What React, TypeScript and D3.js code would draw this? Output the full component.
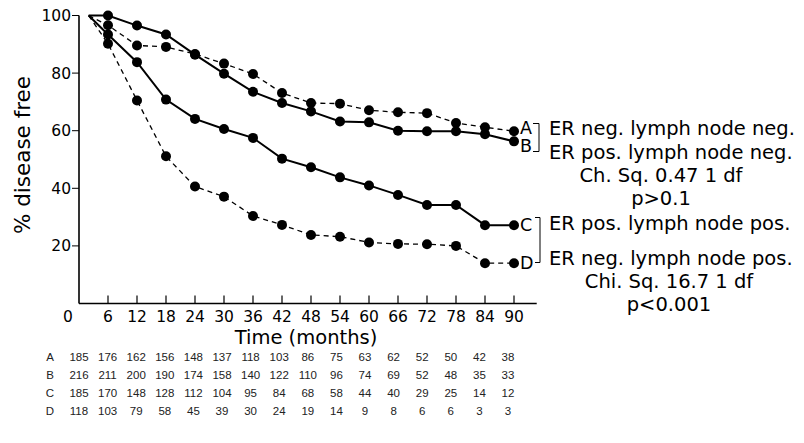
import React from "react";
import * as d3 from "d3";

// Tiempos (meses) de cada punto de las curvas; el primero es el origen común sin punto.
const months = [2, 6, 12, 18, 24, 30, 36, 42, 48, 54, 60, 66, 72, 78, 84, 90];

// % libre de enfermedad.
const curveA = [100, 96.6, 89.6, 89.1, 86.6, 83.3, 79.7, 73.1, 69.6, 69.4, 67.1, 66.4, 66.1, 62.7, 61.2, 59.8];
const curveB = [100, 100, 96.5, 93.4, 86.4, 79.8, 73.5, 69.6, 66.7, 63.2, 62.9, 60.0, 59.8, 59.8, 58.8, 56.3];
const curveC = [100, 93.4, 83.8, 70.8, 64.1, 60.6, 57.5, 50.3, 47.3, 43.8, 41.0, 37.7, 34.2, 34.2, 27.2, 27.2];
const curveD = [100, 90.2, 70.5, 51.1, 40.6, 37.1, 30.4, 27.3, 23.8, 23.2, 21.2, 20.7, 20.6, 20.0, 14.0, 14.0];

const curveNames = ["A", "B", "C", "D"];
const curveDashed = [true, false, false, true];

// Pacientes en riesgo.
const tableMonths = [0, 6, 12, 18, 24, 30, 36, 42, 48, 54, 60, 66, 72, 78, 84, 90];
const atRiskA = [185, 176, 162, 156, 148, 137, 118, 103, 86, 75, 63, 62, 52, 50, 42, 38];
const atRiskB = [216, 211, 200, 190, 174, 158, 140, 122, 110, 96, 74, 69, 52, 48, 35, 33];
const atRiskC = [185, 170, 148, 128, 112, 104, 95, 84, 68, 58, 44, 40, 29, 25, 14, 12];
const atRiskD = [118, 103, 79, 58, 45, 39, 30, 24, 19, 14, 9, 8, 6, 6, 3, 3];

const yTicks = [20, 40, 60, 80, 100];
const xTicks = [6, 12, 18, 24, 30, 36, 42, 48, 54, 60, 66, 72, 78, 84, 90];

const legendTop = ["ER neg. lymph node neg.", "ER pos. lymph node neg."];
const statTop = ["Ch. Sq. 0.47 1 df", "p>0.1"];
const legendBottom = ["ER pos. lymph node pos.", "ER neg. lymph node pos."];
const statBottom = ["Chi. Sq. 16.7 1 df", "p<0.001"];

const width = 804;
const height = 443;
const font = "'DejaVu Sans', sans-serif";

export default function App() {
  const x = d3.scaleLinear([0, 90], [79, 514]);
  const y = d3.scaleLinear([0, 100], [303.5, 15.5]);
  const xAxisEnd = x(94.7);

  const curves = [curveA, curveB, curveC, curveD];
  const line = d3
    .line<number>()
    .x((_, i) => x(months[i]))
    .y((d) => y(d));

  const tableX = d3.scalePoint(tableMonths.map(String), [79, 508]);
  const rows = [atRiskA, atRiskB, atRiskC, atRiskD];
  const rowY = d3.scalePoint(curveNames, [357, 411]);

  // Letras al final de cada curva (A y B separadas un poco, como en el original).
  const letterDy = [-4, 4, 0, 0];

  return (
    <svg
      width={width}
      height={height}
      viewBox={`0 0 ${width} ${height}`}
      style={{ position: "absolute", left: 0, top: 0, background: "#fff" }}
      fontFamily={font}
    >
      {/* Ejes */}
      <g stroke="#000" strokeWidth={1.6} fill="none">
        <line x1={x(0)} x2={x(0)} y1={y(100)} y2={y(0)} />
        <line x1={x(0)} x2={xAxisEnd} y1={y(0)} y2={y(0)} />
        {yTicks.map((t) => (
          <line key={t} x1={x(0) - 7} x2={x(0)} y1={y(t)} y2={y(t)} strokeWidth={1} />
        ))}
        {xTicks.map((t) => (
          <line key={t} x1={x(t)} x2={x(t)} y1={y(0)} y2={y(0) - 8} strokeWidth={1.2} />
        ))}
      </g>
      <g fontSize={15.5} fill="#000">
        {yTicks.map((t) => (
          <text key={t} x={x(0) - 8} y={y(t)} dy="0.36em" textAnchor="end">
            {t}
          </text>
        ))}
        {xTicks.map((t) => (
          <text key={t} x={x(t)} y={y(0) + 13} dy="0.36em" textAnchor="middle">
            {t}
          </text>
        ))}
        <text x={x(0) - 11} y={y(0) + 13} dy="0.36em" textAnchor="middle">
          0
        </text>
      </g>
      <text x={306} y={344} fontSize={19.5} textAnchor="middle">
        Time (months)
      </text>
      <text transform={`translate(30,${155}) rotate(-90)`} fontSize={21.5} textAnchor="middle">
        % disease free
      </text>

      {/* Curvas */}
      {curves.map((c, k) => (
        <g key={curveNames[k]}>
          <path
            d={line(c) ?? ""}
            fill="none"
            stroke="#000"
            strokeWidth={curveDashed[k] ? 1.3 : 2}
            strokeDasharray={curveDashed[k] ? "5,4" : undefined}
          />
          {c.slice(1).map((v, i) => (
            <circle key={i} cx={x(months[i + 1])} cy={y(v)} r={5} fill="#000" />
          ))}
        </g>
      ))}

      {/* Letras y corchetes */}
      <g fontSize={17.5} fill="#000">
        {curves.map((c, k) => (
          <text key={k} x={x(90) + 6} y={y(c[c.length - 1]) + letterDy[k]} dy="0.36em">
            {curveNames[k]}
          </text>
        ))}
      </g>
      <path d="M533,123.5H539V151.5H533" fill="none" stroke="#000" strokeWidth={1} />
      <path d="M535,217.5H540V262.5H535" fill="none" stroke="#000" strokeWidth={1} />

      <g fontSize={19.5} fill="#000">
        {legendTop.map((t, i) => (
          <text key={t} x={549} y={128 + i * 24} dy="0.36em">
            {t}
          </text>
        ))}
        {statTop.map((t, i) => (
          <text key={t} x={661} y={174.5 + i * 23} dy="0.36em" textAnchor="middle">
            {t}
          </text>
        ))}
        {legendBottom.map((t, i) => (
          <text key={t} x={549} y={223 + i * 35} dy="0.36em">
            {t}
          </text>
        ))}
        {statBottom.map((t, i) => (
          <text key={t} x={669} y={281 + i * 22.5} dy="0.36em" textAnchor="middle">
            {t}
          </text>
        ))}
      </g>

      {/* Tabla de pacientes en riesgo */}
      <g fontSize={11.5} fill="#222" fontFamily="'Liberation Sans', Arial, sans-serif">
        {rows.map((r, k) => (
          <g key={curveNames[k]}>
            <text x={50} y={rowY(curveNames[k])} dy="0.36em" textAnchor="middle">
              {curveNames[k]}
            </text>
            {r.map((v, i) => (
              <text
                key={i}
                x={tableX(String(tableMonths[i]))}
                y={rowY(curveNames[k])}
                dy="0.36em"
                textAnchor="middle"
              >
                {v}
              </text>
            ))}
          </g>
        ))}
      </g>
    </svg>
  );
}
